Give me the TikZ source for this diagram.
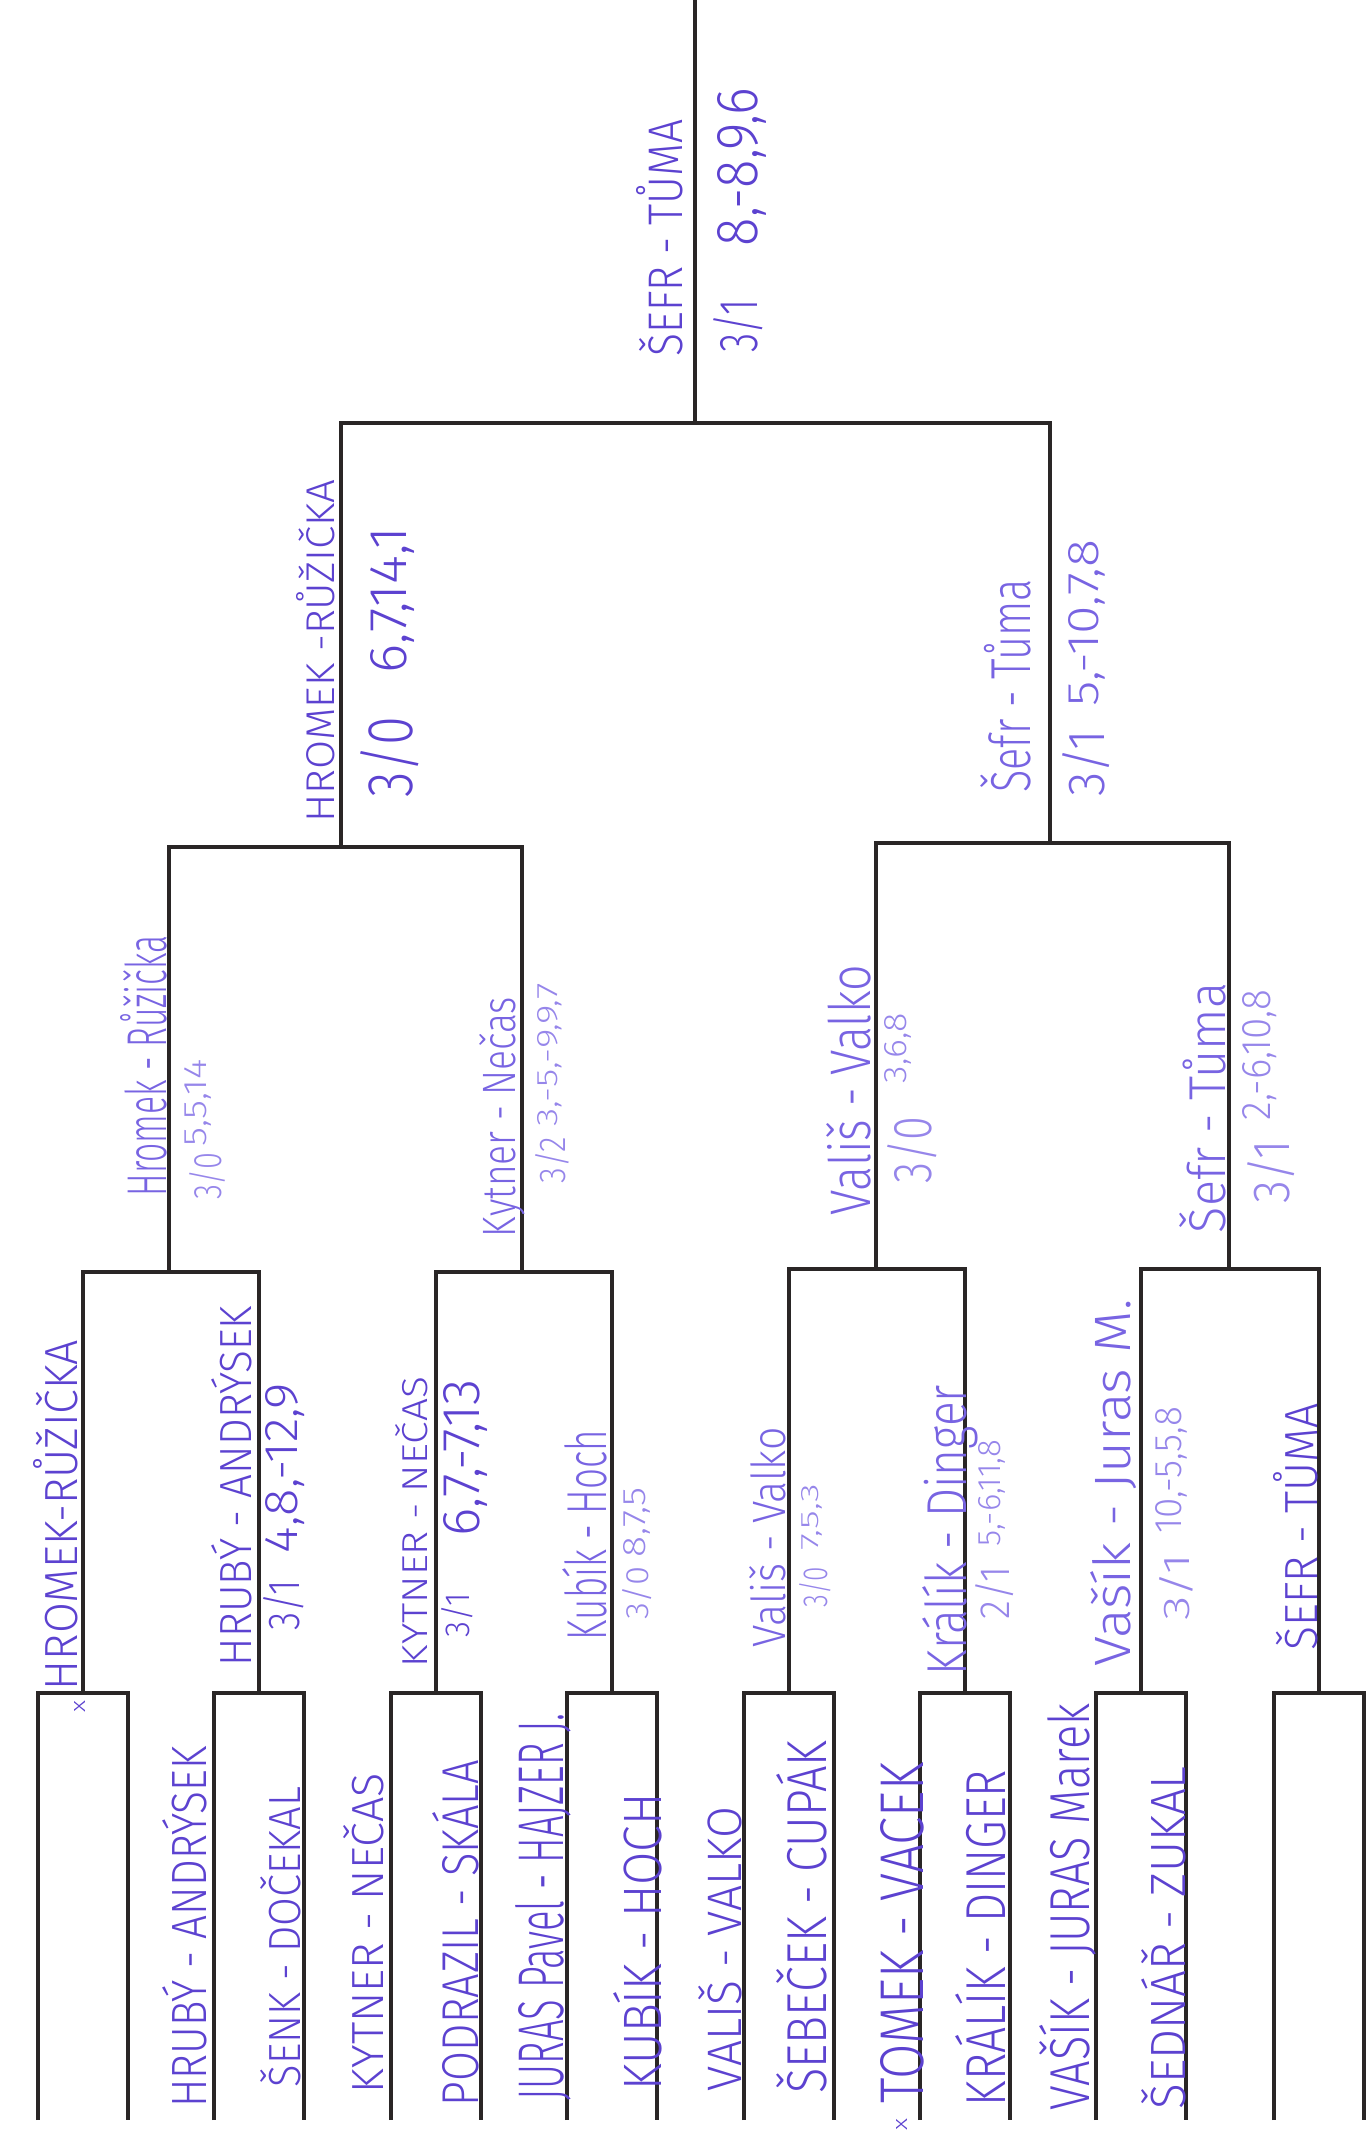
\documentclass[tikz,border=0pt]{standalone}
\usepackage{fontspec}
\IfFontExistsTF{Fira Sans Light}
  {\setmainfont{Fira Sans Light}}
  {\setmainfont{Fira Sans}}
\usepackage{graphicx}
\usetikzlibrary{positioning}
\definecolor{ink}{RGB}{92,66,208}
\definecolor{inkmid}{RGB}{120,100,226}
\definecolor{inkpale}{RGB}{150,134,234}
\definecolor{frame}{RGB}{42,38,38}
\newlength{\pxu}
\setlength{\pxu}{0.2mm}
\newcommand{\hw}[3]{\resizebox{#1\pxu}{#2\pxu}{#3}}

\tikzset{
  bracket/.style={draw=frame, line width=2.8pt},
  pen/.style={text=ink, rotate=90, inner sep=0pt},
  penmid/.style={pen, text=inkmid},
  penpale/.style={pen, text=inkpale},
}

\begin{document}
\begin{tikzpicture}[x=0.2mm, y=-0.2mm]
  \useasboundingbox (0,0) rectangle (1367,2133);

  % pavouk
  \coordinate (win) at (695,0);
  \coordinate (fin) at (695,423);
  \coordinate (semiA) at (341,847);
  \coordinate (semiB) at (1050,843);
  \coordinate (qfA) at (169,1272);
  \coordinate (qfB) at (522,1272);
  \coordinate (qfC) at (876,1269);
  \coordinate (qfD) at (1229,1269);
  \foreach \i/\x in {1/83,2/259,3/436,4/612,5/789,6/965,7/1141,8/1319}
    \coordinate (box\i) at (\x,1693);

  \draw[bracket] (win) -- (fin);
  \draw[bracket] (semiA) |- (fin) -| (semiB);
  \draw[bracket] (qfA) |- (semiA) -| (qfB);
  \draw[bracket] (qfC) |- (semiB) -| (qfD);
  \draw[bracket] (box1) |- (qfA) -| (box2);
  \draw[bracket] (box3) |- (qfB) -| (box4);
  \draw[bracket] (box5) |- (qfC) -| (box6);
  \draw[bracket] (box7) |- (qfD) -| (box8);
  \foreach \i/\x in {1/83,2/259,3/436,4/612,5/789,6/965,7/1141,8/1319}
    \draw[bracket] (\x-45,2120) |- (box\i) -| (\x+45,2120);

  % finale
  \node[pen] (finNames) at (660,238) {\hw{237}{46}{ŠEFR - TŮMA}};
  \node[pen] (finScore) at (738,326) {\hw{53}{44}{3/1}};
  \node[pen] (finSets) at (742,167) {\hw{158}{40}{8,-8,9,6}};

  % semifinale
  \node[pen] (semiANames) at (316,651) {\hw{343}{38}{HROMEK -RŮŽIČKA}};
  \node[pen] (semiAScore) at (390,757) {\hw{80}{52}{3/0}};
  \node[pen] (semiASets) at (393,600) {\hw{146}{36}{6,7,14,1}};
  \node[penmid] (semiBNames) at (1006,686) {\hw{213}{50}{Šefr - Tůma}};
  \node[penmid] (semiBScore) at (1086,763) {\hw{67}{42}{3/1}};
  \node[penmid] (semiBSets) at (1087,623) {\hw{167}{30}{5,-10,7,8}};

  % ctvrtfinale
  \node[penmid] (qfANames) at (144,1066) {\hw{261}{46}{Hromek - Růžička}};
  \node[penpale] (qfAScore) at (207,1176) {\hw{47}{32}{3/0}};
  \node[penpale] (qfASets) at (198,1103) {\hw{87}{22}{5,5,14}};
  \node[penmid] (qfBNames) at (502,1117) {\hw{240}{36}{Kytner - Nečas}};
  \node[penpale] (qfBScore) at (552,1160) {\hw{46}{30}{3/2}};
  \node[penpale] (qfBSets) at (550,1055) {\hw{143}{20}{3,-5,-9,9,7}};
  \node[penmid] (qfCNames) at (849,1090) {\hw{250}{44}{Vališ - Valko}};
  \node[penpale] (qfCScore) at (912,1150) {\hw{66}{44}{3/0}};
  \node[penpale] (qfCSets) at (898,1048) {\hw{70}{22}{3,6,8}};
  \node[penmid] (qfDNames) at (1203,1108) {\hw{250}{46}{Šefr - Tůma}};
  \node[penpale] (qfDScore) at (1271,1172) {\hw{63}{42}{3/1}};
  \node[penpale] (qfDSets) at (1260,1055) {\hw{130}{28}{2,-6,10,8}};

  % 1. kolo
  \node[pen] (rA) at (56,1515) {\hw{350}{44}{HROMEK-RŮŽIČKA}};
  \node[pen] (rBNames) at (232,1486) {\hw{360}{40}{HRUBÝ - ANDRÝSEK}};
  \node[pen] (rBScore) at (284,1605) {\hw{50}{36}{3/1}};
  \node[pen] (rBSets) at (285,1468) {\hw{170}{32}{4,8,-12,9}};
  \node[pen] (rCNames) at (412,1522) {\hw{290}{32}{KYTNER - NEČAS}};
  \node[pen] (rCScore) at (457,1615) {\hw{44}{28}{3/1}};
  \node[pen] (rCSets) at (466,1458) {\hw{157}{36}{6,7,-7,13}};
  \node[penmid] (rDNames) at (585,1535) {\hw{210}{44}{Kubík - Hoch}};
  \node[penpale] (rDScore) at (637,1593) {\hw{53}{26}{3/0}};
  \node[penpale] (rDSets) at (637,1522) {\hw{70}{22}{8,7,5}};
  \node[penmid] (rENames) at (768,1537) {\hw{220}{36}{Vališ - Valko}};
  \node[penpale] (rEScore) at (815,1587) {\hw{40}{28}{3/0}};
  \node[penpale] (rESets) at (812,1517) {\hw{67}{17}{7,5,3}};
  \node[penmid] (rFNames) at (950,1530) {\hw{290}{44}{Králík - Dinger}};
  \node[penpale] (rFScore) at (995,1593) {\hw{53}{34}{2/1}};
  \node[penpale] (rFSets) at (992,1493) {\hw{107}{22}{5,-6,11,8}};
  \node[penmid] (rGNames) at (1114,1483) {\hw{367}{40}{Vašík - Juras M.}};
  \node[penpale] (rGScore) at (1176,1587) {\hw{67}{30}{3/1}};
  \node[penpale] (rGSets) at (1171,1470) {\hw{127}{26}{10,-5,5,8}};
  \node[pen] (rH) at (1296,1527) {\hw{247}{44}{ŠEFR - TŮMA}};

  % dvojice
  \node[pen] (pairA) at (185,1927) {\hw{361}{44}{HRUBÝ - ANDRÝSEK}};
  \node[pen] (pairB) at (281,1937) {\hw{300}{40}{ŠENK - DOČEKAL}};
  \node[pen] (pairC) at (364,1933) {\hw{320}{40}{KYTNER - NEČAS}};
  \node[pen] (pairD) at (456,1933) {\hw{346}{46}{PODRAZIL - SKÁLA}};
  \node[pen] (pairE) at (543,1907) {\hw{387}{48}{JURAS Pavel - HAJZER J.}};
  \node[pen] (pairF) at (638,1942) {\hw{297}{48}{KUBÍK - HOCH}};
  \node[pen] (pairG) at (720,1949) {\hw{284}{43}{VALIŠ - VALKO}};
  \node[pen] (pairH) at (802,1917) {\hw{353}{50}{ŠEBEČEK - CUPÁK}};
  \node[pen] (pairI) at (902,1933) {\hw{340}{43}{TOMEK - VACEK}};
  \node[pen] (pairJ) at (981,1938) {\hw{336}{50}{KRÁLÍK - DINGER}};
  \node[pen] (pairK) at (1068,1907) {\hw{407}{50}{VAŠÍK - JURAS Marek}};
  \node[pen] (pairL) at (1164,1938) {\hw{343}{44}{ŠEDNÁŘ - ZUKAL}};

  \node[pen] (markA) at (80,1706) {\hw{12}{11}{x}};
  \node[pen] (markB) at (902,2124) {\hw{12}{11}{x}};
\end{tikzpicture}
\end{document}
